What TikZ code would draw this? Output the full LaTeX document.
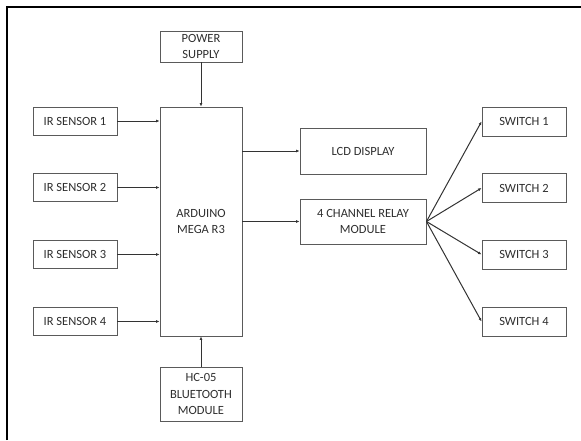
\documentclass[tikz,border=0pt]{standalone}
\usepackage{fontspec}
\setmainfont{Carlito}
\usetikzlibrary{arrows.meta,positioning,calc}

\definecolor{boxline}{HTML}{5A5A5A}
\definecolor{boxtext}{HTML}{2E2E2E}

\tikzset{
  blk/.style={rectangle,draw=boxline,line width=0.9pt,text=boxtext,align=center,
    font=\fontsize{12.5}{16.5}\selectfont,inner sep=1pt},
  link/.style={-{Latex[length=3.5pt,width=3pt]},line width=1pt,draw=black!80}
}

\begin{document}
\begin{tikzpicture}[x=1pt,y=-1pt]
\useasboundingbox (0,0) rectangle (581,440);
% frame (only top and left edge visible)
\draw[line width=1.4pt] (7,440) -- (7,7) -- (581,7);

% controller, supply and bluetooth
\node[blk,minimum width=82pt,minimum height=229pt] (ard) at (201,221.5) {ARDUINO\\MEGA R3};
\node[blk,minimum width=82pt,minimum height=31pt] (pwr) at (201,46.5) {POWER\\SUPPLY};
\node[blk,minimum width=82pt,minimum height=54pt] (bt) at (201,394) {HC-05\\BLUETOOTH\\MODULE};

% IR sensors
\node[blk,minimum width=84pt,minimum height=28pt] (ir1) at (75,121) {IR SENSOR 1};
\node[blk,minimum width=84pt,minimum height=28pt] (ir2) at (75,187.5) {IR SENSOR 2};
\node[blk,minimum width=84pt,minimum height=28pt] (ir3) at (75,254.5) {IR SENSOR 3};
\node[blk,minimum width=84pt,minimum height=28pt] (ir4) at (75,321.5) {IR SENSOR 4};

% outputs
\node[blk,minimum width=126pt,minimum height=46pt] (lcd) at (363,151) {LCD DISPLAY};
\node[blk,minimum width=126pt,minimum height=45pt] (relay) at (363,221.5) {4 CHANNEL RELAY\\MODULE};

% switches
\node[blk,minimum width=84pt,minimum height=29pt] (sw1) at (524,121.5) {SWITCH 1};
\node[blk,minimum width=84pt,minimum height=29pt] (sw2) at (524,188) {SWITCH 2};
\node[blk,minimum width=84pt,minimum height=29pt] (sw3) at (524,254.5) {SWITCH 3};
\node[blk,minimum width=84pt,minimum height=29pt] (sw4) at (524,321.5) {SWITCH 4};

% connections
\draw[link] (pwr) -- (ard);
\draw[link] (bt) -- (ard);
\draw[link] (ir1) -- (ir1 -| ard.west);
\draw[link] (ir2) -- (ir2 -| ard.west);
\draw[link] (ir3) -- (ir3 -| ard.west);
\draw[link] (ir4) -- (ir4 -| ard.west);
\draw[link] (ard.east |- lcd) -- (lcd);
\draw[link] (ard.east |- relay) -- (relay);

\coordinate (fan) at (relay.east);
\draw[link] (fan) -- (sw1.west);
\draw[link] (fan) -- (sw2.west);
\draw[link] (fan) -- (sw3.west);
\draw[link] (fan) -- (sw4.west);
\end{tikzpicture}
\end{document}
